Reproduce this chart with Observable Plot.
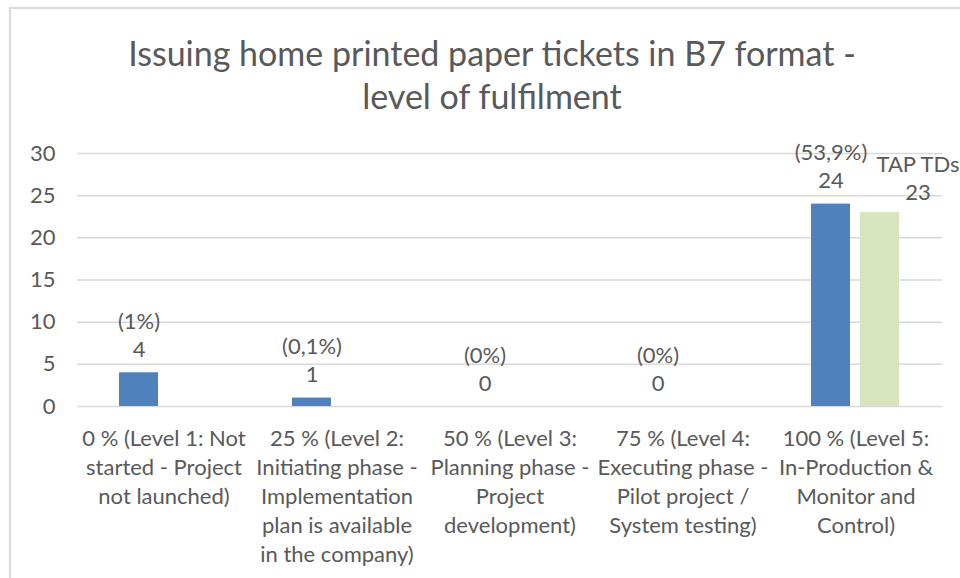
<!DOCTYPE html>
<html>
<head>
<meta charset="utf-8">
<script src="https://cdn.jsdelivr.net/npm/d3@7"></script>
<script src="https://cdn.jsdelivr.net/npm/@observablehq/plot@0.6"></script>
<style>
  html, body { margin: 0; padding: 0; background: #fff; overflow: hidden; }
  #wrap { position: relative; width: 960px; height: 578px; overflow: hidden; font-family: Lato, sans-serif; }
  #border { position: absolute; left: 9px; top: 7px; width: 2000px; height: 2000px;
            border-left: 2px solid #d9d9d9; border-top: 2px solid #d9d9d9; }
  #title { position: absolute; left: 0; top: 31px; width: 984px; text-align: center;
           font-size: 34px; line-height: 43px; color: #595959; }
  #chart { position: absolute; left: 0; top: 120px; }
</style>
</head>
<body>
<div id="wrap">
  <div id="border"></div>
  <div id="title">Issuing home printed paper tickets in B7 format -<br>level of fulfilment</div>
  <div id="chart"></div>
</div>
<script>
const categories = [
  "0 % (Level 1: Not\nstarted - Project\nnot launched)",
  "25 % (Level 2:\nInitiating phase -\nImplementation\nplan is available\nin the company)",
  "50 % (Level 3:\nPlanning phase -\nProject\ndevelopment)",
  "75 % (Level 4:\nExecuting phase -\nPilot project /\nSystem testing)",
  "100 % (Level 5:\nIn-Production &\nMonitor and\nControl)"
];
const seriesNames = ["All", "TAP TDs"];
const seriesColors = ["#4f81bd", "#d7e4bd"];
const allValues = [4, 1, 0, 0, 24];
const allShares = ["(1%)", "(0,1%)", "(0%)", "(0%)", "(53,9%)"];
const tapValues = [null, null, null, null, 23];
const yTicks = [0, 5, 10, 15, 20, 25, 30];

const allRows = categories.map((c, i) => ({cat: c, series: seriesNames[0], value: allValues[i], share: allShares[i]}));
const tapRows = categories.map((c, i) => ({cat: c, series: seriesNames[1], value: tapValues[i]})).filter(d => d.value != null);
const rows = allRows.concat(tapRows);

const txt = "#595959";
const chart = Plot.plot({
  width: 960,
  height: 458,
  marginTop: 33,
  marginBottom: 172,
  marginLeft: 75,
  marginRight: 17,
  style: {fontFamily: "Lato, sans-serif", fontSize: "22px", color: txt, background: "transparent", overflow: "visible"},
  fx: {domain: categories, padding: 0, label: null},
  x: {domain: seriesNames, paddingInner: 0.2, paddingOuter: 0.854, axis: null},
  y: {domain: [0, 30], ticks: yTicks, label: null},
  color: {domain: seriesNames, range: seriesColors},
  marks: [
    Plot.gridY(yTicks, {stroke: "#d9d9d9", strokeOpacity: 1, strokeWidth: 1.5}),
    Plot.barY(rows, {fx: "cat", x: "series", y: "value", fill: "series"}),
    Plot.text(allRows, {fx: "cat", x: "series", y: "value", text: d => d.share + "\n" + d.value,
      lineAnchor: "bottom", dy: -16, lineHeight: 1.27, fill: txt, fontSize: 22}),
    Plot.text(tapRows, {fx: "cat", x: "series", y: "value", text: d => d.series + "\n" + d.value,
      lineAnchor: "bottom", dy: -13, dx: 38, lineHeight: 1.27, fill: txt, fontSize: 22}),
    Plot.axisY({ticks: yTicks, tickSize: 0, tickPadding: 22, fontSize: 22, label: null}),
    Plot.axisFx({anchor: "bottom", tickSize: 0, tickPadding: 19, lineHeight: 1.32, fontSize: 22, label: null})
  ]
});
document.getElementById("chart").appendChild(chart);
</script>
</body>
</html>
